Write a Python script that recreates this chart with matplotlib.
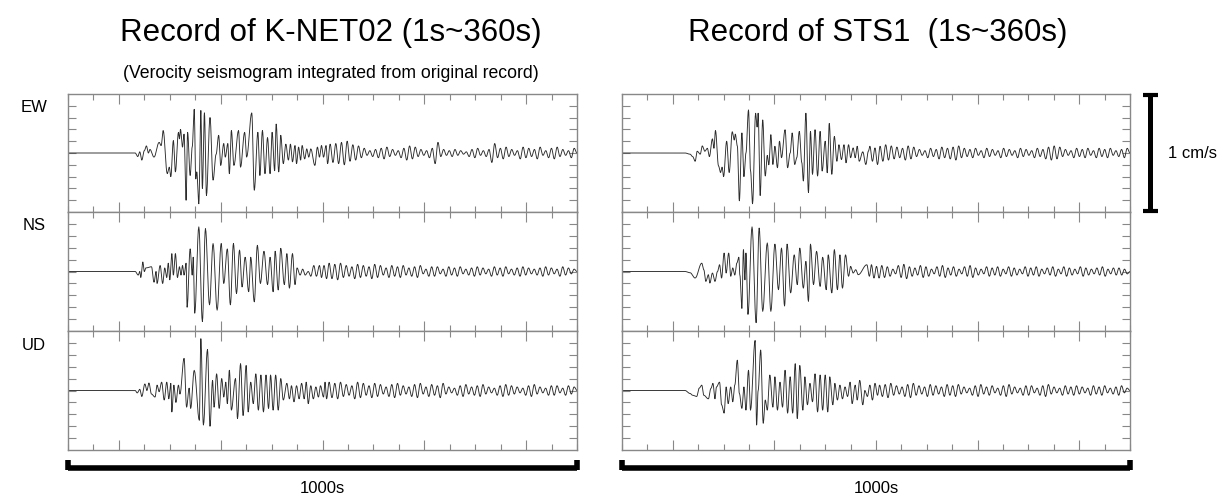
import numpy as np
import matplotlib
matplotlib.use('Agg')
import matplotlib.pyplot as plt
from matplotlib.ticker import MultipleLocator, FixedLocator

plt.rcParams['font.family'] = ['Liberation Sans', 'DejaVu Sans']

# ---- data: extrema (time s, velocity cm/s) ----
# K-NET02
knet_ew_t = [0, 132, 137, 141, 145, 150, 154, 158, 161, 169, 179, 183, 187, 195, 199, 202, 207, 211, 217, 219,
             221, 225, 228, 232, 235, 240, 244, 248, 251, 253, 257, 261, 264, 268, 272, 279, 285, 291, 296, 300,
             306, 309, 314, 317, 321, 326, 335, 339, 347, 351, 361, 366, 373, 377, 382, 387, 392, 397, 401, 406,
             409, 414, 418, 423, 428, 433, 437, 441, 446, 449, 453, 457, 460, 465, 469, 473, 477, 485, 490, 494,
             498, 502, 507, 510, 515]
knet_ew_v = [0, 0, -0.03, 0.01, -0.06, 0.02, 0.06, 0.0, 0.03, -0.035, 0.09, 0.063, 0.19, -0.175, -0.12, -0.20,
             0.105, -0.16, 0.175, 0.12, 0.20, 0.05, 0.16, -0.40, 0.175, -0.19, 0.05, 0.37, -0.22, -0.16, -0.43,
             0.36, -0.30, 0.34, -0.36, 0.30, -0.23, -0.01, 0.15, -0.105, 0.08, -0.035, 0.08, -0.175, 0.19, -0.105,
             0.19, -0.12, 0.175, -0.035, 0.34, -0.315, 0.175, -0.19, 0.19, -0.175, 0.13, -0.175, 0.175, -0.15,
             0.245, -0.16, 0.15, -0.09, 0.075, -0.06, 0.075, -0.075, 0.063, -0.09, 0.05, -0.06, 0.063, -0.05,
             0.035, -0.035, 0.035, -0.105, 0.05, -0.035, 0.063, -0.035, 0.063, -0.09, 0.075]
knet_ew_tail = [8, 9, 10, 7, 6, 4, 2, 3, 4, 5, 3, 2, 4, 6, 5, 3, 2, 4, 9, 3, 2, 3, 2, 1, 3, 4, 2, 3, 8, 4, 5,
                3, 2, 5, 4, 3, 5, 2, 4, 5, 3, 2, 4]

knet_ns_t = [0, 132, 138, 141, 143, 147, 150, 153, 164, 169, 173, 175, 181, 186, 190, 194, 197, 200, 204, 207,
             211, 215, 219, 222, 225, 228, 232, 234, 240, 244, 246, 249, 257, 264, 270, 278, 285, 293, 301, 306,
             313, 319, 325, 331, 337, 342, 348, 355, 359, 366, 372, 378, 385, 392, 397, 403, 407, 413, 418, 425,
             430, 435, 441, 446, 450, 456, 461, 466, 472, 477, 483, 488, 494, 498, 503, 508, 513]
knet_ns_v = [0, 0, -0.03, 0.0, -0.05, 0.08, 0.0, 0.03, 0.04, -0.09, 0.0, -0.10, 0.05, -0.10, 0.03, -0.05, 0.07,
             -0.07, 0.15, -0.03, 0.15, -0.05, 0.04, -0.03, 0.05, -0.03, 0.07, -0.30, 0.19, -0.03, 0.12, -0.35,
             0.375, -0.42, 0.36, -0.28, 0.235, -0.325, 0.235, -0.10, 0.19, -0.28, 0.235, -0.185, 0.18, -0.13,
             0.12, -0.17, 0.12, -0.255, 0.22, -0.10, 0.17, -0.11, 0.12, -0.17, 0.17, -0.155, 0.195, -0.11, 0.15,
             -0.14, 0.15, -0.11, 0.03, -0.03, 0.02, -0.03, 0.0, -0.04, 0.05, -0.04, 0.05, -0.05, 0.05, -0.06, 0.07]
knet_ns_tail = [6, 7, 5, 4, 6, 5, 4, 6, 5, 3, 5, 4, 5, 3, 4, 5, 2, 4, 4, 2, 4, 3, 4, 2, 3, 4, 3, 2, 4, 3, 4,
                2, 3, 4, 3, 2, 3, 4, 3, 2, 4, 3, 2]

knet_ud_t = [0, 132, 136, 141, 145, 151, 155, 159, 164, 171, 175, 179, 184, 189, 194, 198, 202, 204, 208, 212,
             217, 220, 228, 233, 238, 241, 248, 258, 261, 266, 274, 279, 284, 287, 292, 297, 302, 306, 310, 313,
             317, 321, 329, 333, 339, 344, 350, 354, 359, 364, 369, 374, 379, 384, 389, 394, 398, 403, 408, 413,
             418, 423, 430, 435, 439, 444, 449, 454, 459, 464, 468, 472, 477, 482, 487, 492, 496, 502, 505, 508,
             513]
knet_ud_v = [0, 0, -0.02, 0.01, -0.05, 0.055, 0.0, 0.063, -0.03, -0.055, 0.045, -0.01, 0.07, -0.08, 0.07, -0.07,
             0.06, -0.18, 0.045, -0.10, 0.045, -0.03, 0.27, -0.14, 0.02, -0.15, 0.17, -0.25, 0.435, -0.29, 0.345,
             -0.30, 0.085, -0.14, 0.14, -0.15, 0.10, -0.055, 0.07, -0.11, 0.17, -0.165, 0.10, -0.235, 0.225, -0.21,
             0.21, -0.18, 0.07, -0.11, 0.14, -0.165, 0.13, -0.18, 0.13, -0.15, 0.13, -0.165, 0.13, -0.165, 0.10,
             -0.08, 0.06, -0.07, 0.04, -0.095, 0.04, -0.07, 0.06, -0.07, 0.07, -0.11, 0.04, -0.07, 0.03, -0.055,
             0.04, -0.055, 0.07, -0.07, 0.07]
knet_ud_tail = [6, 7, 5, 4, 7, 6, 4, 6, 5, 3, 5, 6, 4, 3, 5, 6, 3, 5, 4, 6, 3, 2, 4, 5, 3, 4, 5, 3, 2, 4, 5,
                4, 3, 2, 4, 5, 3, 2, 4, 4, 2, 4, 3]

# STS1
sts_ew_t = [0, 124, 134, 139, 144, 148, 154, 158, 163, 168, 172, 178, 181, 184, 190, 194, 197, 200, 206, 211,
            217, 221, 223, 227, 231, 236, 240, 244, 249, 253, 257, 263, 266, 268, 272, 277, 282, 286, 289, 293,
            297, 301, 306, 310, 314, 321, 326, 331, 335, 340, 344, 349, 354, 357, 362, 367, 371, 375, 380, 385,
            390, 394, 400, 404, 408, 413, 418, 423, 427, 432, 437, 441, 446, 450, 455, 459, 463, 467, 474, 480,
            485, 488, 493, 498, 503, 508]
sts_ew_v = [0, 0, -0.01, -0.03, -0.07, 0.015, -0.01, 0.06, 0.015, 0.04, -0.03, 0.12, 0.04, 0.19, -0.11, -0.165,
            -0.12, -0.20, 0.10, -0.165, 0.18, 0.11, 0.16, 0.06, -0.405, 0.17, -0.20, 0.0, 0.365, -0.15, -0.43,
            0.337, 0.22, 0.337, -0.36, 0.28, -0.195, -0.02, -0.10, 0.155, -0.097, 0.057, -0.125, 0.10, -0.04,
            0.197, -0.125, 0.0, 0.17, -0.097, -0.04, 0.183, -0.083, -0.237, 0.337, -0.335, 0.183, -0.18, 0.197,
            -0.195, 0.183, -0.153, 0.10, -0.167, 0.25, -0.18, 0.14, -0.07, 0.07, -0.055, 0.07, -0.083, 0.07,
            -0.04, 0.043, -0.04, 0.057, -0.07, 0.01, -0.097, 0.015, 0.057, -0.07, 0.043, -0.097, 0.057]
sts_ew_tail = [7, 6, 5, 4, 6, 5, 3, 2, 4, 3, 5, 4, 5, 6, 4, 3, 4, 2, 4, 3, 2, 4, 3, 2, 4, 3, 2, 4, 3, 5, 6,
               5, 3, 2, 4, 3, 4, 2, 4, 3, 4, 2, 3, 4]

sts_ns_t = [0, 124, 134, 144, 157, 161, 165, 170, 173, 178, 183, 188, 192, 196, 201, 205, 210, 214, 218, 222,
            226, 230, 232, 236, 239, 242, 244, 248, 256, 264, 270, 277, 286, 293, 301, 308, 314, 320, 325, 332,
            339, 345, 350, 357, 362, 367, 371, 377, 383, 390, 395, 402, 406, 413, 418, 424, 429, 434, 440, 446,
            450, 455, 460, 465, 482, 487, 491, 496, 501, 506]
sts_ns_v = [0, 0, -0.01, -0.055, 0.07, 0.015, -0.083, -0.027, -0.097, -0.013, -0.083, 0.0, 0.057, -0.055, 0.155,
            -0.013, 0.155, -0.04, 0.03, -0.03, 0.07, 0.12, -0.03, -0.31, 0.183, -0.07, 0.155, -0.36, 0.375, -0.43,
            0.365, -0.335, 0.24, -0.335, 0.23, -0.153, 0.197, -0.29, 0.23, -0.18, 0.14, -0.11, 0.197, -0.14,
            0.085, -0.25, 0.23, -0.11, 0.17, -0.125, 0.12, -0.153, 0.14, -0.18, 0.183, -0.153, 0.14, -0.14, 0.14,
            -0.04, 0.043, -0.013, 0.015, -0.027, 0.057, -0.04, 0.057, -0.055, 0.043, -0.055]
sts_ns_tail = [5, 4, 2, 5, 6, 4, 3, 5, 4, 2, 4, 5, 3, 4, 2, 4, 5, 3, 2, 4, 3, 4, 2, 4, 3, 2, 4, 3, 4, 2, 3,
               4, 2, 4, 3, 2, 4, 3, 2, 3, 4, 2, 3, 3, 2]

sts_ud_t = [0, 124, 134, 139, 147, 152, 157, 161, 170, 175, 179, 183, 186, 192, 196, 201, 205, 209, 214, 218,
            222, 227, 231, 236, 240, 244, 249, 253, 262, 265, 268, 273, 278, 282, 286, 291, 297, 301, 306, 311,
            316, 321, 326, 331, 336, 341, 345, 350, 356, 360, 365, 370, 375, 380, 385, 390, 395, 400, 405, 409,
            415, 419, 424, 429, 434, 439, 444, 449, 453, 459, 463, 468, 474, 478, 483, 488, 493, 498, 503, 507]
sts_ud_v = [0, 0, -0.025, -0.04, -0.05, 0.02, 0.045, -0.04, -0.07, 0.017, 0.06, -0.07, 0.03, 0.07, -0.12,
            -0.19, 0.03, -0.11, 0.03, -0.095, 0.045, 0.255, -0.025, -0.15, 0.03, -0.165, 0.17, -0.165, 0.42,
            -0.29, 0.0, 0.34, -0.275, -0.08, -0.165, 0.13, -0.14, 0.115, -0.165, 0.07, -0.14, 0.17, -0.19, 0.115,
            -0.19, 0.225, -0.235, 0.21, -0.165, 0.115, -0.12, 0.06, -0.095, 0.14, -0.18, 0.13, -0.165, 0.13,
            -0.18, 0.115, -0.12, 0.06, -0.08, 0.045, -0.07, 0.03, -0.05, 0.07, -0.11, 0.045, -0.08, 0.085, -0.12,
            0.0, -0.05, 0.045, -0.08, 0.06, -0.04, 0.045]
sts_ud_tail = [5, 6, 4, 3, 5, 6, 4, 3, 5, 4, 3, 5, 4, 5, 3, 2, 4, 5, 3, 4, 2, 4, 5, 3, 2, 4, 4, 2, 4, 5, 3,
               2, 4, 3, 4, 3, 2, 4, 3, 4, 2, 3, 4, 2]

components = ['EW', 'NS', 'UD']
knet = [(knet_ew_t, knet_ew_v, knet_ew_tail), (knet_ns_t, knet_ns_v, knet_ns_tail),
        (knet_ud_t, knet_ud_v, knet_ud_tail)]
sts = [(sts_ew_t, sts_ew_v, sts_ew_tail), (sts_ns_t, sts_ns_v, sts_ns_tail),
       (sts_ud_t, sts_ud_v, sts_ud_tail)]
t_end = 1000


def build(t, v, tail):
    # tail: peak amplitudes (0.01 cm/s) of the small coda cycles, spread evenly up to t_end
    t = list(t)
    v = list(v)
    n = len(tail) * 2
    step = (t_end - t[-1]) / (n + 1)
    sign = -np.sign(v[-1]) if v[-1] != 0 else -1
    for k in range(n):
        t.append(t[-1] + step)
        v.append(sign * tail[k // 2] / 100.0)
        sign = -sign
    t.append(t_end)
    v.append(0.0)
    # cosine easing between read extrema
    t = np.array(t, float)
    v = np.array(v, float)
    s = np.linspace(0, 1, 8, endpoint=False)
    w = (1 - np.cos(np.pi * s)) / 2
    tt = (t[:-1, None] + (t[1:] - t[:-1])[:, None] * s).ravel()
    vv = (v[:-1, None] + (v[1:] - v[:-1])[:, None] * w).ravel()
    return np.append(tt, t[-1]), np.append(vv, v[-1])


W, H = 1227, 498
fig = plt.figure(figsize=(W / 100, H / 100), dpi=100)

rows_px = [(94, 212), (212, 331), (331, 450)]
cols_px = [(68, 577), (622, 1130)]
axes = {}
for ci, (data, (x0, x1)) in enumerate(zip([knet, sts], cols_px)):
    for ri, (y0, y1) in enumerate(rows_px):
        ax = fig.add_axes([x0 / W, 1 - y1 / H, (x1 - x0) / W, (y1 - y0) / H])
        t, v, tail = data[ri]
        tt, vv = build(t, v, tail)
        ax.plot(tt, vv, color='#2b2b2b', lw=0.65)
        ax.set_xlim(0, t_end)
        ax.set_ylim(-0.5, 0.5)
        ax.xaxis.set_major_locator(FixedLocator([100, 300, 500, 700, 900]))
        ax.xaxis.set_minor_locator(MultipleLocator(50))
        ax.yaxis.set_major_locator(FixedLocator(np.arange(-0.4, 0.41, 0.1)))
        ax.tick_params(which='both', direction='in', top=True, right=True, labelbottom=False,
                       labelleft=False, color='#888888', width=0.8)
        ax.tick_params(axis='x', which='major', length=7)
        ax.tick_params(axis='x', which='minor', length=4)
        ax.tick_params(axis='y', which='major', length=6)
        for sp in ax.spines.values():
            sp.set_color('#888888')
            sp.set_linewidth(1.0)
        axes[(ci, ri)] = ax

# component labels
for ri, comp in enumerate(components):
    fig.text(34 / W, 1 - (rows_px[ri][0] + 14) / H, comp, ha='center', va='center', fontsize=12)

# titles
fig.text(331 / W, 1 - 33 / H, 'Record of K-NET02 (1s~360s)', ha='center', va='center', fontsize=22.5)
fig.text(331 / W, 1 - 73 / H, '(Verocity seismogram integrated from original record)',
         ha='center', va='center', fontsize=12.7)
fig.text(878 / W, 1 - 33 / H, 'Record of STS1  (1s~360s)', ha='center', va='center', fontsize=22.5)

# amplitude scale bar (1 cm/s = panel height)
ax = axes[(1, 0)]
tr = ax.get_yaxis_transform()
ax.plot([1.04, 1.04], [-0.49, 0.49], transform=tr, clip_on=False, color='black', lw=3.6,
        solid_capstyle='butt')
for yy in (-0.49, 0.49):
    ax.plot([1.025, 1.056], [yy, yy], transform=tr, clip_on=False, color='black', lw=3.0,
            solid_capstyle='butt')
fig.text(1192 / W, 1 - 153 / H, '1 cm/s', ha='center', va='center', fontsize=12)

# time scale bars (1000 s)
for ci in range(2):
    ax = axes[(ci, 2)]
    tr = ax.get_xaxis_transform()
    ax.plot([0, t_end], [-0.15, -0.15], transform=tr, clip_on=False, color='black', lw=4.0,
            solid_capstyle='butt')
    for xx in (0, t_end):
        ax.plot([xx, xx], [-0.17, -0.08], transform=tr, clip_on=False, color='black', lw=4.0,
                solid_capstyle='butt')
    xc = (cols_px[ci][0] + cols_px[ci][1]) / 2
    fig.text(xc / W, 1 - 488 / H, '1000s', ha='center', va='center', fontsize=12)

fig.savefig('out.png', dpi=100)
